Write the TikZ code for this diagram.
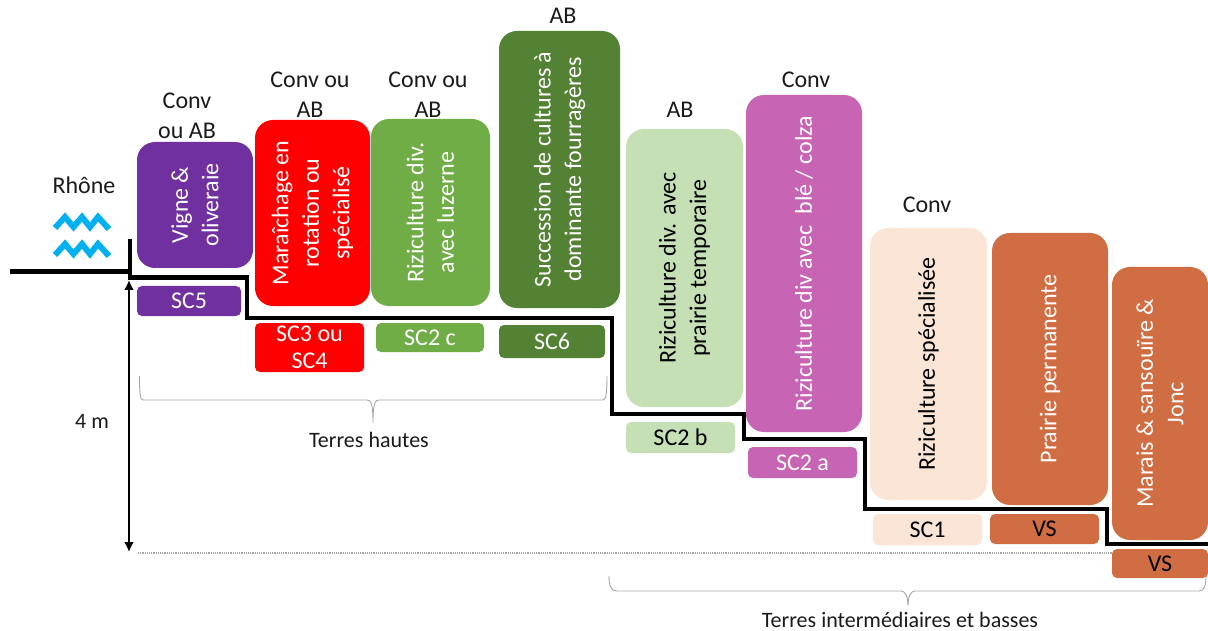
\documentclass[tikz,border=0pt]{standalone}
\usepackage{fontspec}
\setmainfont{Carlito}
\usetikzlibrary{arrows.meta}
\definecolor{cviolet}{HTML}{7030A0}
\definecolor{cred}{HTML}{FF0000}
\definecolor{cgreen}{HTML}{70AD47}
\definecolor{cdkgreen}{HTML}{548235}
\definecolor{cltgreen}{HTML}{C5E0B4}
\definecolor{cpink}{HTML}{C864B4}
\definecolor{cpeach}{HTML}{FBE5D6}
\definecolor{cbrown}{HTML}{D16D42}
\definecolor{cwave}{HTML}{00B0F0}
\definecolor{cbrace}{HTML}{A6A6A6}
\definecolor{ctext}{HTML}{1A1A1A}
\tikzset{
 x=1pt,y=-1pt,
 txt/.style={font=\fontsize{24}{30}\selectfont,text=ctext,align=center,inner sep=0pt},
 txtsmall/.style={font=\fontsize{22}{26}\selectfont,text=ctext,align=center,inner sep=0pt},
 cropbox/.style={rounded corners=18pt,inner sep=0pt,rotate=90,font=\fontsize{24}{30.5}\selectfont,align=center},
 scbox/.style={rounded corners=5pt,inner sep=0pt,font=\fontsize{24}{27}\selectfont,align=center},
 ground/.style={line width=4.6pt,draw=black,miter limit=10},
 wave/.style={line width=6pt,draw=cwave,line cap=butt,line join=miter},
 bracket/.style={draw=cbrace,line width=0.9pt},
}
% name, x1, y1, x2, y2, fill, text colour, text
\newcommand{\cropnode}[8]{%
 \node[cropbox,fill=#6,text=#7,minimum width={(#5-#3)*1pt},minimum height={(#4-#2)*1pt}] (#1) at ({(#2+#4)/2},{(#3+#5)/2}) {#8};}
\newcommand{\scnode}[8]{%
 \node[scbox,fill=#6,text=#7,minimum width={(#4-#2)*1pt},minimum height={(#5-#3)*1pt}] (#1) at ({(#2+#4)/2},{(#3+#5)/2}) {#8};}
\begin{document}
\begin{tikzpicture}
\useasboundingbox (0,0) rectangle (1208,631);
% reference level (behind the boxes)
\coordinate (d0) at (138,553);
\coordinate (d1) at (1112,553);
\draw[draw=cbrace,line width=1.2pt,densely dotted] (d0) -- (d1);
% crops
\cropnode{vigne}{137}{142}{253}{268}{cviolet}{white}{Vigne \&\\oliveraie}
\cropnode{mara}{255}{120}{370}{306}{cred}{white}{Maraîchage en\\rotation ou\\spécialisé}
\cropnode{luz}{371}{119}{490}{306}{cgreen}{white}{Riziculture div.\\avec luzerne}
\cropnode{succ}{499}{31}{620}{308}{cdkgreen}{white}{Succession de cultures à\\dominante fourragères}
\cropnode{prair}{626}{129}{743}{407}{cltgreen}{black}{Riziculture div. avec\\prairie temporaire}
\cropnode{ble}{746}{95}{862}{432}{cpink}{white}{Riziculture div avec\ \ blé / colza}
\cropnode{spec}{870}{228}{987}{500}{cpeach}{black}{Riziculture spécialisée}
\cropnode{perm}{992}{233}{1108}{505}{cbrown}{white}{Prairie permanente}
\cropnode{marais}{1112}{267}{1208}{540}{cbrown}{white}{Marais \& sansouïre \&\\Jonc}
% system labels
\scnode{sc5}{137}{286}{241}{316}{cviolet}{white}{SC5}
\scnode{sc34}{255}{323}{364}{372}{cred}{white}{SC3 ou\\SC4}
\scnode{sc2c}{376}{323}{484}{352}{cgreen}{white}{SC2 c}
\scnode{sc6}{499}{325}{605}{358}{cdkgreen}{white}{SC6}
\scnode{sc2b}{626}{422}{735}{453}{cltgreen}{black}{SC2 b}
\scnode{sc2a}{748}{447}{857}{478}{cpink}{white}{SC2 a}
\scnode{sc1}{873}{514}{982}{545}{cpeach}{black}{SC1}
\scnode{vs1}{990}{514}{1099}{544}{cbrown}{black}{VS}
\scnode{vs2}{1112}{549}{1208}{578}{cbrown}{black}{VS}
% farming labels
\node[txt] (l1) at (187,116) {Conv\\ou AB};
\node[txt] (l2) at (310,95) {Conv ou\\AB};
\node[txt] (l3) at (428,95) {Conv ou\\AB};
\node[txt] (l4) at (563,16) {AB};
\node[txt] (l5) at (680,110) {AB};
\node[txt] (l6) at (806,80) {Conv};
\node[txt] (l7) at (927,205) {Conv};
\node[txt] (rhone) at (84,185) {Rhône};
\node[txtsmall] (h) at (92,421) {4 m};
\node[txtsmall] (th) at (369,440) {Terres hautes};
\node[txtsmall] (tb) at (900,620) {Terres intermédiaires et basses};
% river
\draw[wave] (55,228) -- (65,217) -- (73.5,227) -- (82,217) -- (90,227) -- (98,217) -- (109,229);
\draw[wave] (55,255) -- (65,244) -- (73.5,254) -- (82,244) -- (90,254) -- (98,244) -- (109,256);
% ground profile
\coordinate (g0) at (10,271.5);
\coordinate (g1) at (130,271.5);
\coordinate (g2) at (130,239);
\coordinate (g3) at (130,277.5);
\draw[ground] (g0) -- (g1);
\draw[ground] (g2) -- (g3) -- (247,277.5) -- (247,318) -- (612,318) -- (612,414) -- (744,414) -- (744,439) -- (865,439) -- (865,509) -- (1107,509) -- (1107,544) -- (1208,544);
% height arrow
\coordinate (a0) at (129,280);
\coordinate (a1) at (129,552);
\draw[line width=2.8pt,{Latex[length=10pt,width=10pt]}-{Latex[length=10pt,width=10pt]}] (a0) -- (a1);
% braces
\coordinate (b1a) at (139.5,376);
\coordinate (b1t) at (373,423);
\coordinate (b1b) at (607,376);
\draw[bracket] (b1a) .. controls (139.5,392) and (140,400) .. (143,400) -- (367,400) .. controls (371,400) and (373,404) .. (b1t) .. controls (373,404) and (375,400) .. (379,400) -- (603,400) .. controls (606,400) and (607,392) .. (b1b);
\coordinate (b2a) at (609,576);
\coordinate (b2t) at (908,606);
\coordinate (b2b) at (1206,576);
\draw[bracket] (b2a) .. controls (609,586) and (611,591) .. (617,591) -- (901,591) .. controls (905,591) and (908,596) .. (b2t) .. controls (908,596) and (911,591) .. (915,591) -- (1199,591) .. controls (1204,591) and (1206,586) .. (b2b);
\end{tikzpicture}
\end{document}
